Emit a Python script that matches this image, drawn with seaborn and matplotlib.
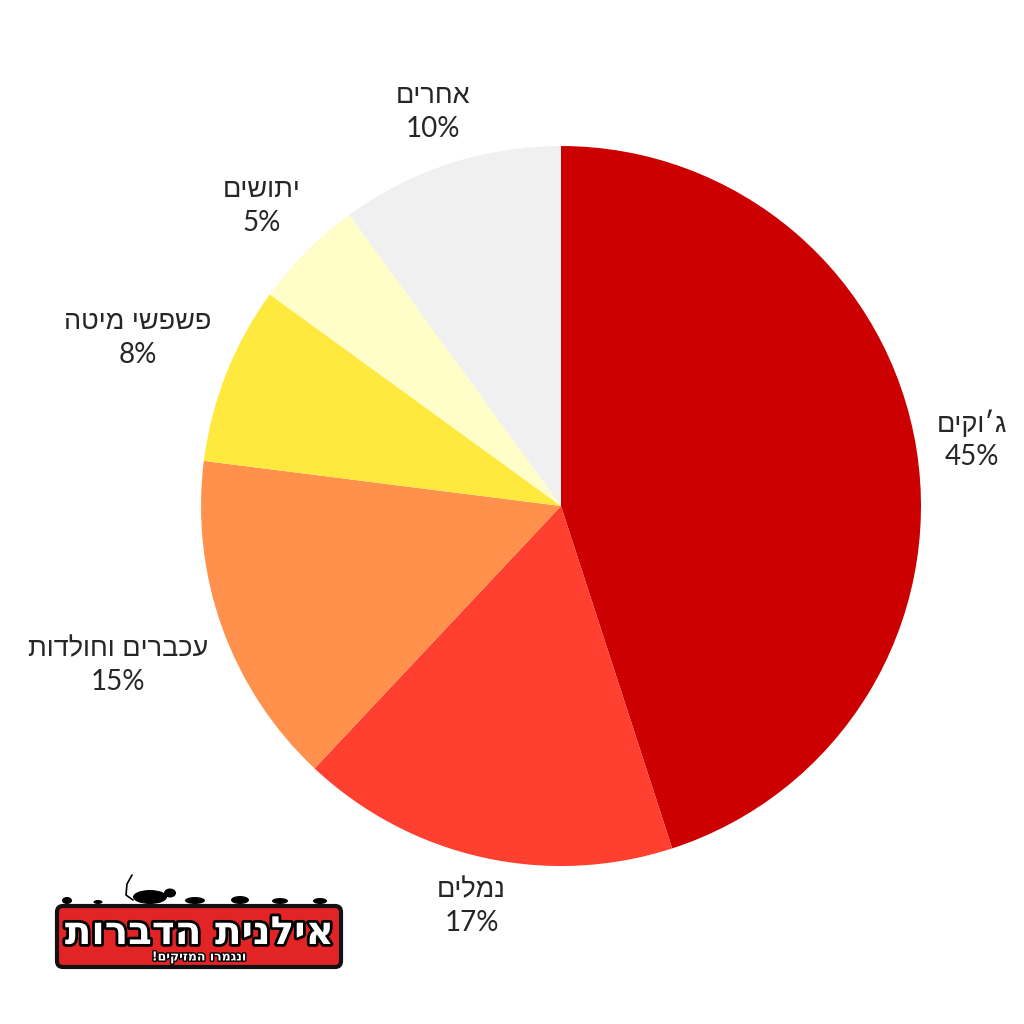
import matplotlib
matplotlib.use("Agg")
import numpy as np
import matplotlib.pyplot as plt
import seaborn as sns
from matplotlib.patches import FancyBboxPatch, Ellipse
import matplotlib.patheffects as pe

categories = ["ג׳וקים", "נמלים", "עכברים וחולדות", "פשפשי מיטה", "יתושים", "אחרים"]
values = [45, 17, 15, 8, 5, 10]
colors = ["#CC0000", "#FF3F2F", "#FF914D", "#FFE93F", "#FFFDC8", "#F0F0F0"]

sns.set_theme(style="white")
plt.rcParams['font.family'] = ['Liberation Sans', 'DejaVu Sans']

def rtl(s):
    return s[::-1]

fig = plt.figure(figsize=(10.24, 10.24), dpi=100)
fig.patch.set_facecolor("white")
ax = fig.add_axes([0.1084, 0.0664, 0.8789, 0.8789])

wedges, _ = ax.pie(values, colors=colors, startangle=90, counterclock=False,
                   wedgeprops=dict(linewidth=0))
ax.set_aspect("equal")

fig.canvas.draw()
renderer = fig.canvas.get_renderer()
c0 = ax.transData.transform((0, 0))
px_per_unit = ax.transData.transform((1, 0))[0] - c0[0]
gap_px = 33.0
box_h = 53.0
d_px = 1.047 * px_per_unit
text_color = "#262626"

for w, cat, v in zip(wedges, categories, values):
    th = np.deg2rad((w.theta1 + w.theta2) / 2)
    ux, uy = np.cos(th), np.sin(th)
    t1 = ax.text(0, 0, rtl(cat), ha="center", va="center", fontsize=19.5,
                 color=text_color, family=['Liberation Sans', 'DejaVu Sans'])
    t2 = ax.text(0, 0, f"{v}%", ha="center", va="center", fontsize=20,
                 color=text_color, family=['Lato', 'DejaVu Sans'])
    b1 = t1.get_window_extent(renderer)
    b2 = t2.get_window_extent(renderer)
    bw = max(b1.width, b2.width)
    r_px = d_px + abs(ux) * bw / 2 + abs(uy) * box_h / 2
    cx = r_px * ux / px_per_unit
    cy = r_px * uy / px_per_unit
    off = gap_px / 2 / px_per_unit
    t1.set_position((cx, cy + off))
    t2.set_position((cx, cy - off))

# Logo
lax = fig.add_axes([0.0, 0.0, 1.0, 1.0], zorder=5)
lax.set_xlim(0, 1024)
lax.set_ylim(1024, 0)
lax.axis("off")
box = FancyBboxPatch((57, 906), 284, 61, boxstyle="round,pad=0,rounding_size=6",
                     facecolor="#E32426", edgecolor="#111111", linewidth=3)
lax.add_patch(box)
lax.text(199, 933, rtl("אילנית הדברות"), ha="center", va="center", fontsize=28,
         fontweight="bold", color="white", family=['DejaVu Sans'],
         path_effects=[pe.withStroke(linewidth=4, foreground="black")])
lax.text(199, 957, rtl("ונגמרו המזיקים!"), ha="center", va="center", fontsize=9,
         fontweight="bold", color="white", family=['DejaVu Sans'],
         path_effects=[pe.withStroke(linewidth=2, foreground="black")])
# simple silhouettes on top of the logo
for (x, w, h) in [(67, 10, 7), (98, 9, 4), (150, 34, 14), (195, 20, 7), (240, 18, 8), (280, 16, 6), (320, 14, 6)]:
    lax.add_patch(Ellipse((x, 904 - h / 2), w, h, facecolor="black", edgecolor="none"))
lax.add_patch(Ellipse((170, 893), 12, 9, facecolor="black", edgecolor="none"))
lax.plot([133, 126, 127, 132], [900, 895, 884, 875], color="black", lw=1.2)

fig.savefig("out.png", dpi=100, facecolor="white")
